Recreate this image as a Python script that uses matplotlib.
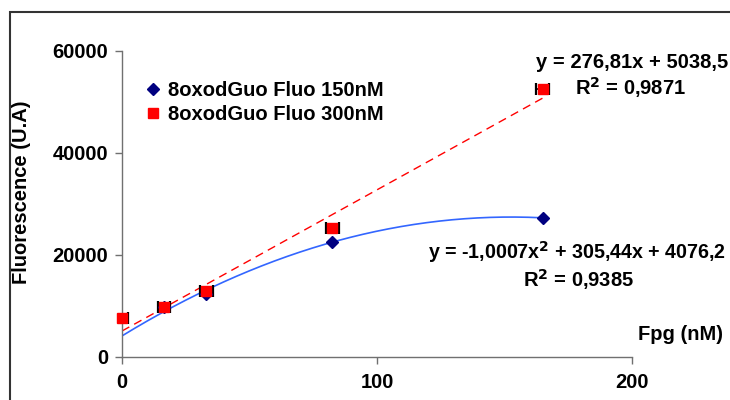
import matplotlib
matplotlib.use("Agg")
import matplotlib.pyplot as plt
import numpy as np
from matplotlib.patches import Rectangle

plt.rcParams['font.family'] = ['Liberation Sans', 'DejaVu Sans']
plt.rcParams['font.weight'] = 'bold'

# Data
fpg = [16.5, 33, 82.5, 165]
fluo_150 = [9700, 12250, 22500, 27250]
fpg_300 = [0, 16.5, 33, 82.5, 165]
fluo_300 = [7550, 9650, 12900, 25200, 52400]
err_300 = [2.5, 2.5, 2.5, 2.5, 2.5]

# Trendline coefficients (as displayed)
lin_coef = [276.81, 5038.5]
quad_coef = [-1.0007, 305.44, 4076.2]

xticks = [0, 100, 200]
yticks = [0, 20000, 40000, 60000]
labels = ["8oxodGuo Fluo 150nM", "8oxodGuo Fluo 300nM"]

FS = 14.5
W, H = 730, 400
fig = plt.figure(figsize=(7.3, 4.0), dpi=100)
ax = fig.add_axes([122 / W, 1 - 356.7 / H, (632 - 122) / W, (356.7 - 50.7) / H])
ax.set_xlim(0, 200)
ax.set_ylim(0, 60000)

xs = np.linspace(0, 165, 200)
ax.plot(xs, np.polyval(quad_coef, xs), color='#3366FF', lw=1.2, zorder=2)
ax.plot(xs, np.polyval(lin_coef, xs), color='#FF0000', lw=1.0, ls=(0, (6, 4)), zorder=2)

h1, = ax.plot(fpg, fluo_150, ls='none', marker='D', ms=6.5, color='#000080',
              zorder=4, label=labels[0], clip_on=False)
ax.errorbar(fpg_300, fluo_300, xerr=err_300, fmt='none', ecolor='black',
            elinewidth=1.2, capsize=4, capthick=1.6, zorder=3)
h2, = ax.plot(fpg_300, fluo_300, ls='none', marker='s', ms=7, color='#FF0000',
              zorder=5, label=labels[1], clip_on=False)

for s in ['top', 'right']:
    ax.spines[s].set_visible(False)
for s in ['left', 'bottom']:
    ax.spines[s].set_color('#707070')
    ax.spines[s].set_linewidth(1.0)
ax.set_xticks(xticks)
ax.set_yticks(yticks)
ax.tick_params(axis='x', direction='out', length=5, width=1, color='#707070', pad=7, labelsize=FS)
ax.tick_params(axis='y', direction='out', length=5, width=1, color='#707070', pad=5, labelsize=FS)
for t in ax.get_xticklabels() + ax.get_yticklabels():
    t.set_fontweight('bold')

leg = fig.legend(handles=[h1, h2], loc='upper left',
                 bbox_to_anchor=(147 / W, 1 - 81 / H), frameon=False,
                 prop={'weight': 'bold', 'size': FS}, handlelength=0.6,
                 handletextpad=0.45, labelspacing=0.25, borderaxespad=0,
                 borderpad=0)

fig.text(22 / W, 1 - 192 / H, "Fluorescence (U.A)", rotation=90, ha='center',
         va='center', fontsize=FS, fontweight='bold')
fig.text(681 / W, 1 - 335 / H, "Fpg (nM)", ha='center', va='center',
         fontsize=FS, fontweight='bold')

fig.text(632 / W, 1 - 62 / H, "y = 276,81x + 5038,5", ha='center', va='center',
         fontsize=FS, fontweight='bold')
fig.text(631 / W, 1 - 88 / H, "R$\\mathbf{^2}$ = 0,9871", ha='center', va='center',
         fontsize=FS, fontweight='bold')
fig.text(577 / W, 1 - 252 / H, "y = -1,0007x$\\mathbf{^2}$ + 305,44x + 4076,2", ha='center',
         va='center', fontsize=14.1, fontweight='bold')
fig.text(579 / W, 1 - 280 / H, "R$\\mathbf{^2}$ = 0,9385", ha='center', va='center',
         fontsize=FS, fontweight='bold')

fig.patches.append(Rectangle((10 / W, -0.05), 1.0, 1 - 12 / H + 0.05,
                             transform=fig.transFigure, fill=False,
                             edgecolor='#333333', lw=1.5))

fig.savefig("out.png", dpi=100)
